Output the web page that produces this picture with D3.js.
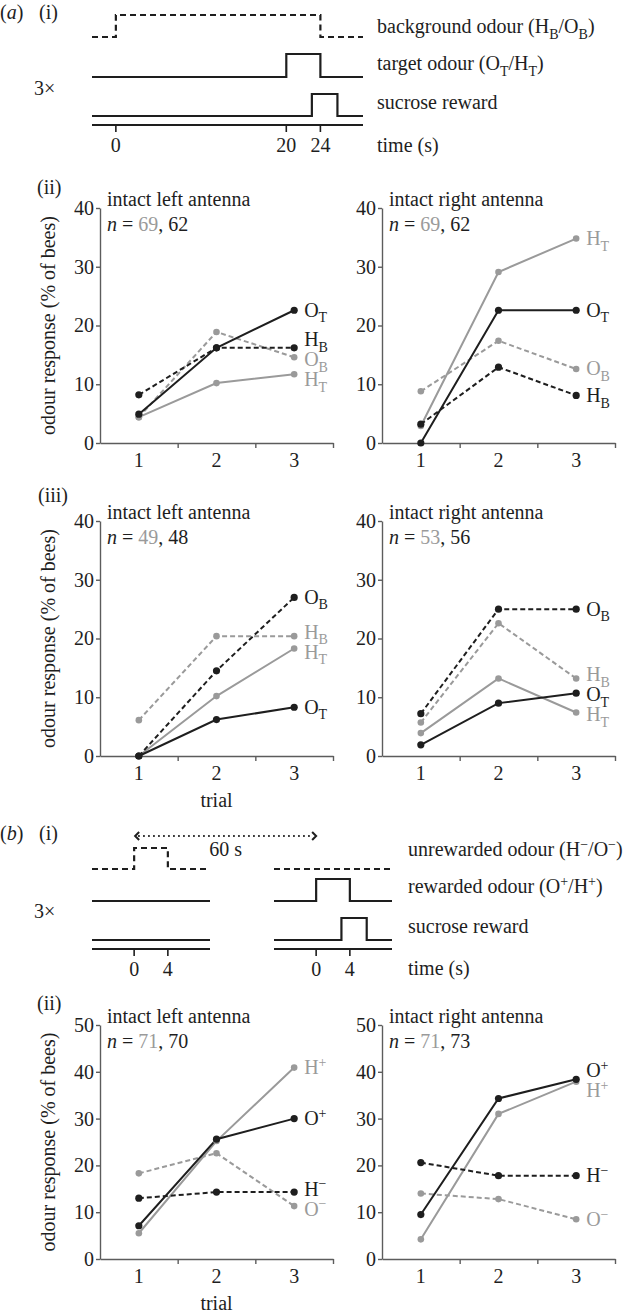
<!DOCTYPE html>
<html>
<head>
<meta charset="utf-8">
<script src="https://cdn.jsdelivr.net/npm/d3@7"></script>
<style>
  body { margin: 0; background: #fff; }
  svg text { font-family: "Liberation Serif", "DejaVu Serif", "Times New Roman", Times, serif; }
</style>
</head>
<body>
<script>
// ---- data ----
const trials = [1, 2, 3]
const yTicksA = [0, 10, 20, 30, 40]
const yTicksB = [0, 10, 20, 30, 40, 50]

// (a)(ii)
const a2LeftN = [69, 62]
const a2LeftOT = [4.9, 16.2, 22.6]
const a2LeftHB = [8.2, 16.2, 16.2]
const a2LeftOB = [4.4, 18.9, 14.6]
const a2LeftHT = [4.4, 10.2, 11.7]
const a2RightN = [69, 62]
const a2RightHT = [2.9, 29.1, 34.8]
const a2RightOT = [0, 22.6, 22.6]
const a2RightOB = [8.8, 17.4, 12.6]
const a2RightHB = [3.2, 12.9, 8.1]

// (a)(iii)
const a3LeftN = [49, 48]
const a3LeftOB = [0, 14.5, 27.0]
const a3LeftHB = [6.1, 20.4, 20.4]
const a3LeftHT = [0, 10.2, 18.3]
const a3LeftOT = [0, 6.2, 8.3]
const a3RightN = [53, 56]
const a3RightOB = [7.2, 25.0, 25.0]
const a3RightHB = [5.7, 22.6, 13.2]
const a3RightHT = [3.9, 13.2, 7.4]
const a3RightOT = [1.9, 9.0, 10.7]

// (b)(ii)
const b2LeftN = [71, 70]
const b2LeftHplus = [5.5, 25.2, 40.9]
const b2LeftOplus = [7.1, 25.6, 30.0]
const b2LeftOminus = [18.3, 22.6, 11.3]
const b2LeftHminus = [13.0, 14.3, 14.3]
const b2RightN = [71, 73]
const b2RightOplus = [9.5, 34.3, 38.4]
const b2RightHplus = [4.2, 31.0, 37.9]
const b2RightHminus = [20.6, 17.8, 17.8]
const b2RightOminus = [14.0, 12.8, 8.5]

// timing protocols (s)
const aTimeDomain = [-2.8, 29]
const aTimeTicks = [0, 20, 24]
const aBackgroundOn = [0, 24]
const aTargetOn = [20, 24]
const aRewardOn = [23, 26]
const bTimeDomain = [-5, 9]
const bTimeTicks = [0, 4]
const bUnrewardedOn = [0, 4]
const bRewardedOn = [0, 4]
const bRewardOn = [3, 6]
const bInterval = '60 s'

// ---- drawing ----
const ink = '#1e1e1e', grey = '#9a9a9a', axisInk = '#5c5c5c'
const fs = 20
const serif = '"Liberation Serif", "DejaVu Serif", "Times New Roman", Times, serif'

const svg = d3.select('body').append('svg')
  .attr('width', 629)
  .attr('height', 1314)
  .style('font-family', serif)

// text with sub/superscripts: parts = [[string, mode, colour]]
function rich(sel, parts) {
  let shift = 0
  parts.forEach(([s, mode, fill]) => {
    const target = mode === 'sub' ? fs * 0.28 : mode === 'sup' ? -fs * 0.36 : 0
    const t = sel.append('tspan')
      .attr('dy', target - shift)
      .style('font-size', (mode === 'sub' || mode === 'sup') ? fs * 0.7 + 'px' : fs + 'px')
      .text(s)
    if (fill) t.attr('fill', fill)
    if (mode === 'it') t.style('font-style', 'italic')
    shift = target
  })
  return sel
}

function addText(x, y, parts, anchor) {
  const t = svg.append('text')
    .attr('x', x).attr('y', y)
    .attr('fill', ink)
    .attr('text-anchor', anchor || 'start')
    .style('font-family', serif)
    .style('font-size', fs + 'px')
  return rich(t, typeof parts === 'string' ? [[parts]] : parts)
}

function stepPoints(domain, on) {
  if (!on) return [[domain[0], 0], [domain[1], 0]]
  return [[domain[0], 0], [on[0], 1], [on[1], 0], [domain[1], 0]]
}

function drawStep(x, base, top, on, dashed) {
  const y = d3.scaleLinear().domain([0, 1]).range([base, top])
  svg.append('path')
    .attr('d', d3.line().x(d => x(d[0])).y(d => y(d[1])).curve(d3.curveStepAfter)(stepPoints(x.domain(), on)))
    .attr('fill', 'none')
    .attr('stroke', ink)
    .attr('stroke-width', 2.2)
    .attr('stroke-dasharray', dashed ? '6,4' : null)
}

function drawTimeAxis(x, yAxis, ticks) {
  svg.append('line')
    .attr('x1', x.range()[0]).attr('x2', x.range()[1])
    .attr('y1', yAxis).attr('y2', yAxis)
    .attr('stroke', ink).attr('stroke-width', 2.2)
  svg.selectAll(null).data(ticks).enter().append('line')
    .attr('x1', d => x(d)).attr('x2', d => x(d))
    .attr('y1', yAxis).attr('y2', yAxis + 7)
    .attr('stroke', ink).attr('stroke-width', 1.6)
  ticks.forEach(d => addText(x(d), yAxis + 27, String(d), 'middle'))
}

// (a)(i) protocol
addText(0, 19, [['('], ['a', 'it'], [')']])
addText(39, 19, '(i)')
const ta = d3.scaleLinear().domain(aTimeDomain).range([92, 363])
drawStep(ta, 37, 15, aBackgroundOn, true)
drawStep(ta, 77, 54, aTargetOn, false)
drawStep(ta, 116, 94, aRewardOn, false)
drawTimeAxis(ta, 125, aTimeTicks)
addText(377, 33, [['background odour (H'], ['B', 'sub'], ['/O'], ['B', 'sub'], [')']])
addText(377, 70, [['target odour (O'], ['T', 'sub'], ['/H'], ['T', 'sub'], [')']])
addText(377, 109, 'sucrose reward')
addText(377, 152, 'time (s)')
addText(34, 95, '3×')

// (b)(i) protocol
addText(0, 840, [['('], ['b', 'it'], [')']])
addText(39, 840, '(i)')
const tbL = d3.scaleLinear().domain(bTimeDomain).range([92, 210])
const tbR = d3.scaleLinear().domain(bTimeDomain).range([274, 392])
drawStep(tbL, 869, 848, bUnrewardedOn, true)
drawStep(tbR, 869, 848, null, true)
drawStep(tbL, 901, 879, null, false)
drawStep(tbR, 901, 879, bRewardedOn, false)
drawStep(tbL, 940, 918, null, false)
drawStep(tbR, 940, 918, bRewardOn, false)
drawTimeAxis(tbL, 949, bTimeTicks)
drawTimeAxis(tbR, 949, bTimeTicks)
// dotted interval arrow
const ax0 = tbL(0) + 1, ax1 = tbR(0)
svg.append('line')
  .attr('x1', ax0 + 3).attr('x2', ax1 - 3).attr('y1', 836).attr('y2', 836)
  .attr('stroke', ink).attr('stroke-width', 2.2)
  .attr('stroke-dasharray', '1.6,3.4')
svg.append('path')
  .attr('d', `M${ax0 + 4},832L${ax0},836L${ax0 + 4},840M${ax1 - 4},832L${ax1},836L${ax1 - 4},840`)
  .attr('fill', 'none').attr('stroke', ink).attr('stroke-width', 2)
addText((ax0 + ax1) / 2, 856, bInterval, 'middle')
addText(408, 856, [['unrewarded odour (H'], ['−', 'sup'], ['/O'], ['−', 'sup'], [')']])
addText(408, 893, [['rewarded odour (O'], ['+', 'sup'], ['/H'], ['+', 'sup'], [')']])
addText(408, 933, 'sucrose reward')
addText(408, 975, 'time (s)')
addText(34, 918, '3×')

// ---- line panels ----
const seriesLabel = {
  OT: [['O'], ['T', 'sub']], HT: [['H'], ['T', 'sub']],
  OB: [['O'], ['B', 'sub']], HB: [['H'], ['B', 'sub']],
  'O+': [['O'], ['+', 'sup']], 'H+': [['H'], ['+', 'sup']],
  'O-': [['O'], ['−', 'sup']], 'H-': [['H'], ['−', 'sup']]
}
const isDashed = k => k.endsWith('B') || k.endsWith('-')

function drawPanel(cfg) {
  const x = d3.scaleLinear().domain([0.5, 3.5]).range([cfg.left, cfg.left + 233])
  const y = d3.scaleLinear().domain([0, d3.max(cfg.yTicks)]).range([cfg.bottom, cfg.top])
  const g = svg.append('g')

  const yAxis = g.append('g')
    .attr('transform', `translate(${cfg.left},0)`)
    .call(d3.axisLeft(y).tickValues(cfg.yTicks).tickSize(4).tickSizeOuter(0).tickPadding(2))
  const xAxis = g.append('g')
    .attr('transform', `translate(0,${cfg.bottom})`)
    .call(d3.axisBottom(x).tickValues([1.5, 2.5, 3.5]).tickSize(5).tickSizeOuter(0).tickFormat(''))
  ;[yAxis, xAxis].forEach(a => {
    a.attr('font-family', null).attr('font-size', null)
    a.select('.domain').attr('stroke', axisInk).attr('stroke-width', 1.4)
    a.selectAll('.tick line').attr('stroke', axisInk).attr('stroke-width', 1.4)
    a.selectAll('text').attr('fill', ink)
      .style('font-size', fs + 'px')
      .style('font-family', serif)
  })

  trials.forEach(t => addText(x(t), cfg.bottom + 24, String(t), 'middle'))
  if (cfg.xTitle) addText(x(2), cfg.bottom + 51, 'trial', 'middle')
  if (cfg.yTitle) {
    svg.append('text')
      .attr('transform', `translate(55,${(cfg.top + cfg.bottom) / 2}) rotate(-90)`)
      .attr('text-anchor', 'middle')
      .attr('fill', ink)
      .style('font-family', serif)
      .style('font-size', fs + 'px')
      .text('odour response (% of bees)')
  }
  if (cfg.tag) addText(cfg.tagX, cfg.tagY, cfg.tag)

  addText(cfg.left + 7, cfg.top - 2, cfg.title)
  addText(cfg.left + 7, cfg.top + 23,
    [['n', 'it'], [' = '], [String(cfg.n[0]), '', grey], [', ' + cfg.n[1]]])

  const line = d3.line().x((d, i) => x(trials[i])).y(d => y(d))
  const ordered = cfg.series.slice().sort((a, b) =>
    (cfg.grey.includes(b.key) ? 1 : 0) - (cfg.grey.includes(a.key) ? 1 : 0))

  ordered.forEach(s => {
    const col = cfg.grey.includes(s.key) ? grey : ink
    g.append('path')
      .attr('d', line(s.values))
      .attr('fill', 'none')
      .attr('stroke', col)
      .attr('stroke-width', 2)
      .attr('stroke-dasharray', isDashed(s.key) ? '5,3' : null)
  })
  ordered.forEach(s => {
    const col = cfg.grey.includes(s.key) ? grey : ink
    g.selectAll(null).data(s.values).enter().append('circle')
      .attr('cx', (d, i) => x(trials[i]))
      .attr('cy', d => y(d))
      .attr('r', col === ink ? 3.6 : 3.3)
      .attr('fill', col)
  })

  // end labels, spread apart so they don't collide
  const minGap = 20
  const labs = cfg.series.map(s => ({ key: s.key, pos: y(s.values[2]) }))
    .sort((a, b) => a.pos - b.pos)
  for (let it = 0; it < 80; it++) {
    for (let i = 0; i < labs.length - 1; i++) {
      const gap = labs[i + 1].pos - labs[i].pos
      if (gap < minGap) {
        const d = (minGap - gap) / 2
        labs[i].pos -= d
        labs[i + 1].pos += d
      }
    }
  }
  labs.forEach(l => {
    const t = addText(x(3) + 10, l.pos + 6.5, seriesLabel[l.key])
    t.attr('fill', cfg.grey.includes(l.key) ? grey : ink)
  })
}

const leftX = 100, rightX = 382

drawPanel({
  left: leftX, top: 208, bottom: 443, yTicks: yTicksA, yTitle: true,
  tag: '(ii)', tagX: 37, tagY: 194,
  title: 'intact left antenna', n: a2LeftN, grey: ['OB', 'HT'],
  series: [
    { key: 'OT', values: a2LeftOT }, { key: 'HB', values: a2LeftHB },
    { key: 'OB', values: a2LeftOB }, { key: 'HT', values: a2LeftHT }
  ]
})
drawPanel({
  left: rightX, top: 208, bottom: 443, yTicks: yTicksA,
  title: 'intact right antenna', n: a2RightN, grey: ['OB', 'HT'],
  series: [
    { key: 'HT', values: a2RightHT }, { key: 'OT', values: a2RightOT },
    { key: 'OB', values: a2RightOB }, { key: 'HB', values: a2RightHB }
  ]
})
drawPanel({
  left: leftX, top: 521, bottom: 756, yTicks: yTicksA, yTitle: true, xTitle: true,
  tag: '(iii)', tagX: 38, tagY: 502,
  title: 'intact left antenna', n: a3LeftN, grey: ['HB', 'HT'],
  series: [
    { key: 'OB', values: a3LeftOB }, { key: 'HB', values: a3LeftHB },
    { key: 'HT', values: a3LeftHT }, { key: 'OT', values: a3LeftOT }
  ]
})
drawPanel({
  left: rightX, top: 521, bottom: 756, yTicks: yTicksA,
  title: 'intact right antenna', n: a3RightN, grey: ['HB', 'HT'],
  series: [
    { key: 'OB', values: a3RightOB }, { key: 'HB', values: a3RightHB },
    { key: 'HT', values: a3RightHT }, { key: 'OT', values: a3RightOT }
  ]
})
drawPanel({
  left: leftX, top: 1025, bottom: 1259, yTicks: yTicksB, yTitle: true, xTitle: true,
  tag: '(ii)', tagX: 37, tagY: 1010,
  title: 'intact left antenna', n: b2LeftN, grey: ['H+', 'O-'],
  series: [
    { key: 'H+', values: b2LeftHplus }, { key: 'O+', values: b2LeftOplus },
    { key: 'O-', values: b2LeftOminus }, { key: 'H-', values: b2LeftHminus }
  ]
})
drawPanel({
  left: rightX, top: 1025, bottom: 1259, yTicks: yTicksB,
  title: 'intact right antenna', n: b2RightN, grey: ['H+', 'O-'],
  series: [
    { key: 'O+', values: b2RightOplus }, { key: 'H+', values: b2RightHplus },
    { key: 'H-', values: b2RightHminus }, { key: 'O-', values: b2RightOminus }
  ]
})
</script>
</body>
</html>
